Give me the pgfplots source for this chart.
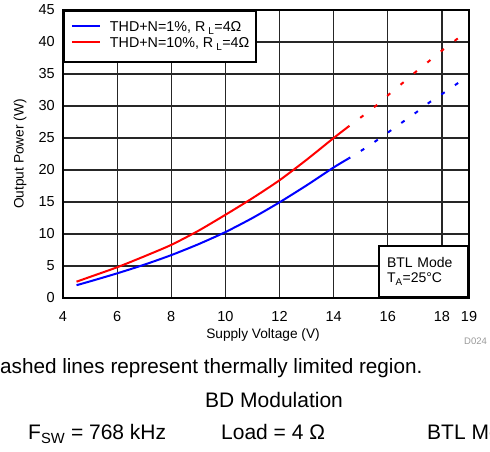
\documentclass[border=0pt]{standalone}
\usepackage{fontspec}
\setmainfont{Liberation Sans}
\usepackage{pgfplots}
\pgfplotsset{compat=1.18}
\begin{document}
\begin{tikzpicture}
\path[use as bounding box] (0pt,0pt) rectangle (490pt,452pt);
\clip (0pt,0pt) rectangle (490pt,452pt);
\begin{axis}[
 at={(63pt,154pt)}, anchor=south west,
 width=406pt, height=288pt, scale only axis,
 xmin=4, xmax=19, ymin=0, ymax=45,
 xtick={4,6,8,10,12,14,16,18,19},
 ytick={0,5,...,45},
 grid=major, major grid style={black!85, line width=1.2pt},
 axis line style={line width=2.5pt},
 major tick length=0pt,
 clip mode=individual,
 /pgf/number format/assume math mode=true,
 tick label style={font=\fontsize{14.5}{17}\selectfont},
 xticklabel style={anchor=north, inner sep=0pt, yshift=-13pt},
 yticklabel style={anchor=east, inner sep=0pt, xshift=-8pt},
 xlabel={Supply Voltage (V)}, ylabel={Output Power (W)},
 label style={font=\fontsize{13.7}{16}\selectfont},
 xlabel style={at={(axis description cs:0.4926,-0.128)}, anchor=center},
 ylabel style={at={(axis description cs:-0.1059,0.5)}, anchor=center},
 legend style={at={(0,1)}, anchor=north west, draw=black, line width=2pt, fill=white,
   font=\fontsize{14.3}{16}\selectfont, inner xsep=7pt, inner ysep=9.5pt, row sep=0pt,
   column sep=9pt,
   nodes={inner xsep=0pt, inner ysep=1.5pt, text height=10pt, text depth=3pt},
   cells={anchor=west}},
 legend image code/.code={\draw[#1, line width=2pt] (0pt,2pt) -- (28pt,2pt);},
 legend cell align=left,
]
\addplot[blue, line width=2pt, line join=round, smooth, tension=0.4] coordinates {
 (4.5,2.0) (5,2.6) (6,3.85) (7,5.2) (8,6.7) (9,8.4) (10,10.3) (11,12.5) (12,14.95) (13,17.6) (14,20.4) (14.55,21.8)};
\addlegendentry{THD+N=1\%, R\hspace{3pt}\textsubscript{L}=4Ω}
\addplot[red, line width=2pt, line join=round, smooth, tension=0.4] coordinates {
 (4.5,2.55) (5,3.3) (6,4.8) (7,6.5) (8,8.3) (9,10.5) (10,13.0) (11,15.6) (12,18.4) (13,21.6) (14,25.0) (14.55,26.8)};
\addlegendentry{THD+N=10\%, R\hspace{3pt}\textsubscript{L}=4Ω}
\addplot[blue, line width=2pt, dash pattern=on 4pt off 12.4pt, dash phase=2pt, forget plot] coordinates {
 (14.55,21.8) (15.05,23.1) (15.55,24.5) (16.05,26.0) (16.55,27.5) (17.05,29.0) (17.55,30.6) (18.05,32.0) (18.6,33.6)};
\addplot[red, line width=2pt, dash pattern=on 4pt off 13.4pt, dash phase=2.9pt, forget plot] coordinates {
 (14.55,26.8) (15.03,28.3) (15.55,30.0) (16.04,31.8) (16.55,33.6) (17.05,35.4) (17.55,37.1) (18.04,38.8) (18.6,40.6)};
\node[draw=black, line width=2pt, fill=white, anchor=south east, minimum width=89pt, minimum height=51pt,
  align=left, text width=73pt, inner xsep=8pt, font=\fontsize{14}{15}\selectfont]
  at (rel axis cs:1,0) {BTL Mode\\T\textsubscript{A}=25°C};
\end{axis}
\node[anchor=base west, inner sep=0pt, font=\fontsize{20.7}{24}\selectfont] at (-15pt,78pt) {Dashed lines represent thermally limited region.};
\node[anchor=base west, inner sep=0pt, font=\fontsize{21}{24}\selectfont] at (205pt,44pt) {BD Modulation};
\node[anchor=base west, inner sep=0pt, font=\fontsize{21}{24}\selectfont] at (28pt,12pt) {F\textsubscript{SW} = 768 kHz};
\node[anchor=base west, inner sep=0pt, font=\fontsize{21}{24}\selectfont] at (221pt,12pt) {Load = 4 Ω};
\node[anchor=base west, inner sep=0pt, font=\fontsize{21}{24}\selectfont] at (427pt,12pt) {BTL Mode};
\node[anchor=west, inner sep=0pt, font=\fontsize{9.5}{11}\selectfont, text=black!40] at (464pt,110.5pt) {D024};
\end{tikzpicture}
\end{document}
